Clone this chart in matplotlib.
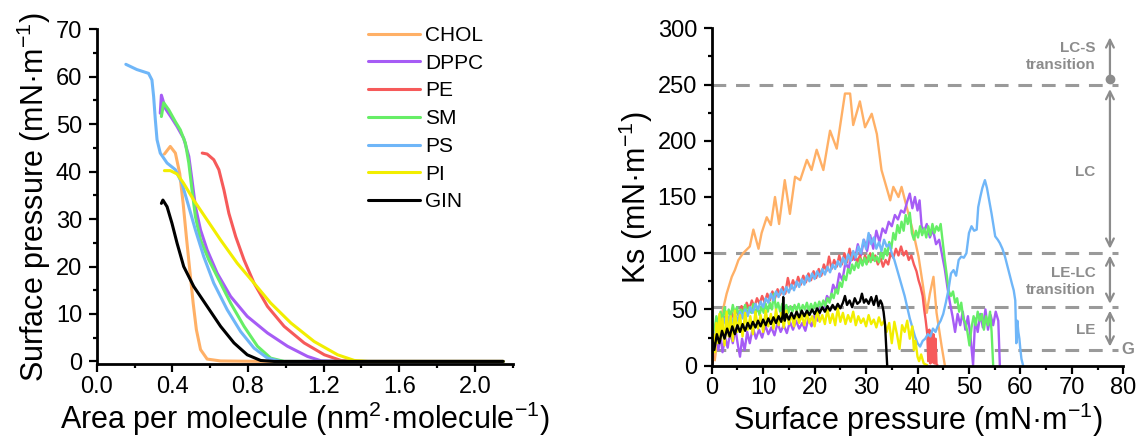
import matplotlib
matplotlib.use("Agg")
import matplotlib.pyplot as plt
from matplotlib.ticker import MultipleLocator, FormatStrFormatter

plt.rcParams['font.family'] = ['Liberation Sans', 'DejaVu Sans']
plt.rcParams['mathtext.default'] = 'regular'

# ---- colours
c_chol = '#FFB066'
c_dppc = '#A65CF5'
c_pe = '#F65A5A'
c_sm = '#66EE66'
c_ps = '#6FB6F8'
c_pi = '#F2EE00'
c_gin = '#000000'
c_note = '#8C8C8C'

# ---- left panel: isotherms (area per molecule, surface pressure)
chol_a = [0.358, 0.389, 0.416, 0.439, 0.457, 0.474, 0.492, 0.510, 0.527, 0.549, 0.584, 0.655, 0.9, 1.5, 2.15]
chol_p = [43.7, 45.3, 43.9, 39.6, 33.3, 26.3, 19.3, 12.3, 6.7, 2.5, 0.5, 0.1, 0.0, 0.0, 0.0]

dppc_a = [0.336, 0.342, 0.363, 0.398, 0.425, 0.460, 0.487, 0.504, 0.522, 0.549, 0.584, 0.637, 0.708, 0.796,
          0.903, 1.009, 1.115, 1.186, 1.3, 2.15]
dppc_p = [52.3, 56.1, 53.3, 51.2, 49.5, 47.0, 43.2, 38.2, 32.6, 27.7, 23.5, 18.6, 13.7, 9.5,
          6.0, 3.2, 1.05, 0.14, 0.0, 0.0]

pe_a = [0.558, 0.584, 0.619, 0.646, 0.673, 0.699, 0.735, 0.779, 0.832, 0.903, 0.991, 1.097, 1.204, 1.292,
        1.363, 2.15]
pe_p = [43.9, 43.7, 42.5, 40.4, 36.1, 31.2, 26.3, 21.4, 16.5, 11.6, 7.4, 3.9, 1.4, 0.2,
        0.0, 0.0]

sm_a = [0.342, 0.354, 0.381, 0.416, 0.442, 0.469, 0.487, 0.504, 0.522, 0.549, 0.593, 0.646, 0.708, 0.779,
        0.850, 0.920, 0.991, 2.15]
sm_p = [51.6, 54.5, 53.0, 50.5, 48.8, 46.0, 41.8, 36.1, 30.5, 25.6, 21.4, 17.2, 12.3, 7.4,
        3.2, 0.7, 0.0, 0.0]

ps_a = [0.154, 0.212, 0.274, 0.292, 0.301, 0.310, 0.319, 0.336, 0.372, 0.416, 0.451, 0.487, 0.522, 0.566,
        0.619, 0.690, 0.761, 0.832, 0.903, 0.973, 2.15]
ps_p = [62.6, 61.5, 60.7, 59.3, 55.8, 50.9, 46.7, 43.9, 41.8, 40.4, 37.5, 32.6, 27.7, 22.1,
        16.5, 10.9, 6.3, 2.8, 0.7, 0.0, 0.0]

pi_a = [0.358, 0.389, 0.425, 0.460, 0.513, 0.584, 0.655, 0.743, 0.832, 0.920, 1.027, 1.150, 1.274, 1.363,
        1.434, 2.15]
pi_p = [40.2, 40.2, 39.5, 37.5, 34.0, 29.8, 25.6, 20.7, 16.5, 12.3, 8.1, 4.2, 1.4, 0.2,
        0.0, 0.0]

gin_a = [0.342, 0.350, 0.372, 0.398, 0.425, 0.460, 0.513, 0.584, 0.655, 0.726, 0.796, 0.867, 0.938, 2.15]
gin_p = [33.3, 34.0, 32.6, 29.1, 24.9, 20.0, 15.8, 11.6, 7.4, 3.9, 1.4, 0.2, 0.0, 0.0]

# ---- right panel: compressibility modulus Ks vs surface pressure
chol_x = [0.6, 1.6, 2.3, 2.9, 3.9, 4.5, 5.2, 6.1, 7.4, 8.1, 9.1, 9.7, 10.7, 11.5, 12.3, 13.1, 14.2, 15.2,
          16.2, 17.2, 18.5, 19.4, 20.4, 21.7, 23.0, 24.3, 25.9, 26.9, 27.5, 28.8, 29.8, 31.1, 32.1, 33.0,
          34.7, 35.3, 36.3, 36.9, 37.9, 39.2, 40.2, 41.1, 41.8, 42.4, 43.1, 43.7, 44.7, 45.3]
chol_k = [5, 41, 52, 64, 79, 85, 94, 100, 106, 121, 104, 118, 132, 125, 150, 126, 165, 135,
          168, 165, 183, 174, 192, 174, 209, 193, 242, 242, 214, 235, 212, 224, 206, 174,
          147, 159, 150, 159, 141, 118, 97, 70, 47, 64, 79, 47, 17, 0.6]

dppc_x = [0.2, 0.5, 0.9, 1.3, 1.7, 2.1, 2.6, 3.1, 3.6, 4.1,
          4.6, 5.1, 5.5, 5.9, 6.4, 6.9, 7.4, 8.0, 8.6, 9.2,
          9.8, 10.4, 11.0, 11.6, 12.2, 12.8, 13.4, 14.0, 14.6, 15.2,
          15.8, 16.4, 17.0, 17.6, 18.2, 18.8, 19.4, 20.0, 20.6, 21.2,
          21.8, 22.4, 23.0, 23.6, 24.2, 24.8, 25.4, 26.0, 26.6, 27.2,
          27.8, 28.4, 29.0, 29.6, 30.2, 30.8, 31.4, 32.0, 32.6, 33.2,
          33.8, 34.4, 35.0, 35.6, 36.2, 36.8, 37.4, 38.0, 38.5, 39.0,
          39.5, 40.0, 40.4, 40.8, 41.3, 41.8, 42.4, 43.0, 43.6, 44.2,
          44.8, 45.3, 45.8, 46.3, 46.8, 47.3, 47.8, 48.3, 48.8, 49.3,
          49.8, 50.3, 50.8, 51.2, 51.7, 52.2, 52.7, 53.2, 53.7, 54.2,
          54.7, 55.2, 55.7, 56.0]
dppc_k = [30, 18, 34, 14, 28, 12, 25, 16, 30, 20,
          33, 18, 8, 24, 14, 30, 20, 34, 24, 32,
          25, 36, 28, 34, 27, 38, 30, 36, 29, 39,
          32, 40, 33, 38, 31, 42, 35, 45, 40, 52,
          50, 62, 58, 72, 66, 82, 76, 92, 86, 100,
          94, 108, 98, 112, 102, 116, 104, 120, 110, 122,
          118, 128, 124, 134, 130, 138, 136, 146, 153, 140,
          150, 138, 147, 124, 120, 126, 114, 121, 108, 112,
          98, 86, 70, 56, 44, 30, 46, 36, 48, 32,
          44, 26, 0.6, 42, 30, 46, 34, 50, 32, 45,
          36, 48, 40, 0.6]

pe_x = [0.2, 0.5, 0.9, 1.3, 1.8, 2.3, 2.8, 3.3, 3.8, 4.3,
        4.8, 5.3, 5.8, 6.3, 6.8, 7.3, 7.8, 8.3, 8.8, 9.3,
        9.8, 10.3, 10.8, 11.3, 11.8, 12.3, 12.8, 13.3, 13.8, 14.3,
        14.8, 15.3, 15.8, 16.3, 16.8, 17.3, 17.8, 18.3, 18.8, 19.3,
        19.8, 20.3, 20.8, 21.3, 21.8, 22.3, 22.8, 23.3, 23.8, 24.3,
        24.8, 25.3, 25.8, 26.3, 26.8, 27.3, 27.8, 28.3, 28.8, 29.3,
        29.8, 30.3, 30.8, 31.3, 31.8, 32.3, 32.8, 33.3, 33.8, 34.3,
        34.8, 35.3, 35.8, 36.3, 36.8, 37.3, 37.8, 38.3, 38.8, 39.3,
        39.8, 40.2, 40.6, 41.0, 41.3, 41.6, 41.9, 42.1, 42.3, 42.5,
        42.7, 42.9, 43.1, 43.3, 43.5, 43.7, 43.8]
pe_k = [3, 28, 40, 34, 44, 38, 46, 40, 48, 42,
        50, 44, 53, 47, 56, 50, 58, 52, 60, 55,
        62, 56, 64, 58, 66, 60, 68, 63, 70, 64,
        78, 68, 76, 70, 79, 72, 80, 74, 82, 76,
        84, 78, 86, 80, 90, 84, 97, 86, 94, 88,
        98, 90, 100, 92, 104, 94, 100, 92, 98, 90,
        98, 92, 100, 94, 98, 90, 96, 88, 94, 90,
        100, 96, 104, 98, 106, 98, 102, 94, 98, 90,
        84, 76, 70, 62, 50, 40, 28, 4, 32, 2,
        30, 3, 28, 2, 24, 1, 0.6]

sm_x = [0.2, 0.5, 0.9, 1.3, 1.7, 2.1, 2.5, 2.9, 3.3, 3.7,
        4.1, 4.5, 4.9, 5.3, 5.7, 6.1, 6.5, 6.9, 7.3, 7.7,
        8.1, 8.5, 8.9, 9.3, 9.7, 10.1, 10.5, 10.9, 11.3, 11.7,
        12.1, 12.5, 12.9, 13.3, 13.7, 14.1, 14.5, 14.9, 15.3, 15.7,
        16.1, 16.5, 16.9, 17.3, 17.7, 18.1, 18.5, 18.9, 19.3, 19.7,
        20.1, 20.5, 20.9, 21.3, 21.7, 22.1, 22.5, 22.9, 23.3, 23.7,
        24.1, 24.5, 24.9, 25.3, 25.7, 26.1, 26.5, 26.9, 27.3, 27.7,
        28.1, 28.5, 28.9, 29.3, 29.7, 30.1, 30.5, 30.9, 31.3, 31.7,
        32.1, 32.5, 32.9, 33.3, 33.7, 34.1, 34.5, 34.9, 35.3, 35.7,
        36.1, 36.5, 36.9, 37.3, 37.7, 38.1, 38.5, 38.9, 39.3, 39.7,
        40.1, 40.5, 40.9, 41.3, 41.7, 42.1, 42.5, 42.9, 43.3, 43.7,
        44.1, 44.5, 44.9, 45.3, 45.7, 46.1, 46.5, 46.9, 47.3, 47.7,
        48.1, 48.5, 48.9, 49.3, 49.7, 50.1, 50.5, 50.9, 51.3, 51.7,
        52.1, 52.5, 52.9, 53.3, 53.7, 54.1, 54.4, 54.7]
sm_k = [14, 30, 44, 36, 48, 40, 52, 42, 50, 44,
        54, 46, 52, 44, 50, 46, 54, 45, 52, 47,
        55, 46, 52, 45, 53, 47, 55, 48, 56, 50,
        64, 50, 56, 48, 55, 49, 54, 47, 53, 48,
        54, 49, 55, 48, 54, 50, 56, 49, 55, 50,
        56, 51, 57, 52, 58, 53, 60, 56, 64, 60,
        68, 64, 74, 70, 80, 76, 86, 82, 90, 85,
        92, 87, 95, 89, 96, 90, 98, 92, 100, 93,
        97, 92, 101, 95, 104, 98, 110, 104, 118, 112,
        125, 118, 128, 120, 134, 126, 136, 118, 112, 120,
        114, 124, 116, 122, 114, 124, 116, 126, 118, 124,
        120, 126, 110, 94, 80, 66, 62, 66, 56, 60,
        48, 56, 42, 38, 30, 18, 34, 44, 36, 48,
        40, 46, 32, 44, 36, 48, 30, 0.6]

ps_x = [0.2, 0.6, 1.0, 1.5, 2.0, 2.5, 3.0, 3.5, 4.0, 4.5,
        5.0, 5.5, 6.0, 6.5, 7.0, 7.5, 8.0, 8.5, 9.0, 9.5,
        10.0, 10.5, 11.0, 11.5, 12.0, 12.5, 13.0, 13.5, 14.0, 14.5,
        15.0, 15.5, 16.0, 16.5, 17.0, 17.5, 18.0, 18.5, 19.0, 19.5,
        20.0, 20.5, 21.0, 21.5, 22.0, 22.5, 23.0, 23.5, 24.0, 24.5,
        25.0, 25.5, 26.0, 26.5, 27.0, 27.5, 28.0, 28.5, 29.0, 29.5,
        30.0, 30.5, 31.0, 31.5, 32.0, 32.5, 33.0, 33.5, 34.0, 34.5,
        35.0, 35.5, 36.0, 36.5, 37.0, 37.5, 38.0, 38.5, 39.0, 39.5,
        40.0, 40.5, 41.0, 41.5, 42.0, 42.5, 43.0, 43.5, 44.0, 44.5,
        45.0, 45.5, 46.0, 46.5, 47.0, 47.5, 48.0, 48.5, 49.0, 49.5,
        50.0, 50.5, 51.0, 51.5, 51.8, 52.2, 52.6, 53.1, 53.5, 53.9,
        54.4, 55.1, 55.6, 56.0, 56.5, 57.0, 57.5, 58.0, 58.4, 58.7,
        59.0, 59.2, 59.4, 59.6, 59.8, 60.0, 60.2, 60.5]
ps_k = [17, 30, 26, 38, 32, 42, 36, 44, 38, 46,
        40, 48, 42, 50, 44, 52, 47, 55, 50, 57,
        52, 60, 56, 64, 58, 66, 61, 68, 63, 70,
        65, 72, 67, 75, 70, 77, 72, 80, 75, 82,
        77, 84, 79, 86, 81, 88, 83, 90, 86, 93,
        88, 96, 90, 99, 93, 102, 96, 106, 100, 112,
        104, 118, 108, 114, 104, 110, 102, 112, 106, 108,
        100, 94, 86, 78, 70, 62, 52, 42, 34, 26,
        20, 17, 22, 24, 28, 26, 33, 30, 36, 40,
        46, 56, 67, 82, 85, 80, 94, 97, 96, 100,
        118, 124, 120, 121, 141, 150, 158, 165, 158, 148,
        135, 115, 112, 109, 104, 97, 88, 79, 72, 67,
        58, 20, 40, 30, 24, 14, 6, 0.6]

pi_x = [0.1, 0.3, 0.6, 0.9, 1.2, 1.5, 1.8, 2.1, 2.5, 2.9,
        3.3, 3.7, 4.1, 4.5, 5.0, 5.5, 6.0, 6.5, 7.0, 7.5,
        8.0, 8.5, 9.0, 9.5, 10.0, 10.5, 11.0, 11.5, 12.0, 12.5,
        13.0, 13.5, 14.0, 14.5, 15.0, 15.5, 16.0, 16.5, 17.0, 17.5,
        18.0, 18.5, 19.0, 19.5, 20.0, 20.5, 21.0, 21.5, 22.0, 22.5,
        23.0, 23.5, 24.0, 24.5, 25.0, 25.5, 26.0, 26.5, 27.0, 27.5,
        28.0, 28.5, 29.0, 29.5, 30.0, 30.5, 31.0, 31.5, 32.0, 32.5,
        33.0, 33.5, 34.0, 34.5, 35.0, 35.5, 36.0, 36.5, 37.0, 37.5,
        38.0, 38.5, 39.0, 39.3, 39.6, 40.0, 40.3, 40.7, 41.2, 41.8]
pi_k = [5, 28, 12, 38, 20, 46, 24, 42, 18, 48,
        26, 44, 22, 49, 30, 45, 26, 47, 32, 44,
        28, 48, 33, 45, 30, 49, 35, 46, 33, 50,
        36, 47, 34, 49, 37, 46, 35, 48, 38, 45,
        36, 47, 38, 44, 35, 49, 39, 45, 37, 50,
        38, 46, 36, 51, 39, 47, 37, 45, 39, 48,
        36, 44, 38, 42, 35, 45, 37, 41, 34, 43,
        36, 40, 30, 38, 20, 39, 28, 15, 36, 30,
        40, 24, 35, 14, 22, 8, 4, 10, 2, 0.6]

gin_x = [0.0, 0.2, 0.5, 1.0, 1.5, 2.0, 2.5, 3.0, 3.5, 4.0,
         4.5, 5.0, 5.5, 6.0, 6.5, 7.0, 7.5, 8.0, 8.5, 9.0,
         9.5, 10.0, 10.5, 11.0, 11.5, 12.0, 12.5, 13.0, 13.5, 13.8,
         13.9, 14.0, 14.2, 14.5, 15.0, 15.5, 16.0, 16.5, 17.0, 17.5,
         18.0, 18.5, 19.0, 19.5, 20.0, 20.5, 21.0, 21.5, 22.0, 22.5,
         23.0, 23.5, 24.0, 24.5, 25.0, 25.5, 25.9, 26.3, 26.8, 27.3,
         27.8, 28.3, 28.8, 29.2, 29.6, 30.0, 30.5, 31.0, 31.5, 32.0,
         32.4, 32.8, 33.1, 33.4, 33.7, 33.9, 34.1]
gin_k = [0.6, 22, 14, 28, 20, 31, 24, 33, 26, 35,
         28, 36, 30, 37, 31, 38, 33, 39, 34, 40,
         35, 41, 36, 42, 37, 43, 38, 44, 39, 45,
         61, 45, 40, 46, 41, 47, 42, 48, 43, 49,
         44, 49, 45, 50, 46, 51, 47, 52, 48, 53,
         49, 54, 50, 55, 51, 56, 62, 54, 58, 52,
         60, 55, 57, 64, 56, 59, 55, 61, 54, 62,
         53, 58, 55, 48, 36, 18, 0.6]

# phase limits (Ks)
phase_lines = [250, 100, 52, 14]

fig = plt.figure(figsize=(11.38, 4.37), dpi=100)
ax1 = fig.add_axes([0.085, 0.1664, 0.3655, 0.7668])
ax2 = fig.add_axes([0.6254, 0.1632, 0.3617, 0.7720])

tick_fs = 17
label_fs = 22


def style_axes(ax):
    for side in ['top', 'right']:
        ax.spines[side].set_visible(False)
    for side in ['left', 'bottom']:
        ax.spines[side].set_linewidth(2)
    ax.tick_params(which='major', direction='out', length=5.5, width=1.6, labelsize=tick_fs)
    ax.tick_params(which='minor', direction='out', length=3.2, width=1.6)
    ax.tick_params(axis='x', which='major', pad=3)
    ax.tick_params(axis='y', which='major', pad=5)


# ---- left panel
iso = [(chol_a, chol_p, c_chol, 'CHOL'), (dppc_a, dppc_p, c_dppc, 'DPPC'),
       (pe_a, pe_p, c_pe, 'PE'), (sm_a, sm_p, c_sm, 'SM'),
       (ps_a, ps_p, c_ps, 'PS'), (pi_a, pi_p, c_pi, 'PI'),
       (gin_a, gin_p, c_gin, 'GIN')]
for a, p, c, lab in iso:
    ax1.plot(a, p, color=c, lw=2.2, label=lab, solid_capstyle='round')

ax1.set_xlim(0, 2.2)
ax1.set_ylim(-0.6, 70)
ax1.xaxis.set_major_locator(MultipleLocator(0.4))
ax1.xaxis.set_minor_locator(MultipleLocator(0.2))
ax1.yaxis.set_major_locator(MultipleLocator(10))
ax1.yaxis.set_minor_locator(MultipleLocator(5))
ax1.xaxis.set_major_formatter(FormatStrFormatter('%.1f'))
style_axes(ax1)
ax1.set_xlabel('Area per molecule (nm$^2$·molecule$^{-1}$)', fontsize=label_fs, labelpad=1)
ax1.set_ylabel('Surface pressure (mN·m$^{-1}$)', fontsize=label_fs, labelpad=2)
ax1.legend(loc='upper left', bbox_to_anchor=(0.652, 1.01), frameon=False, fontsize=15,
           handlelength=2.5, handletextpad=0.25, labelspacing=0.42, borderaxespad=0, borderpad=0)

# ---- right panel
for y in phase_lines:
    ax2.plot([0, 79], [y, y], color='#9A9A9A', lw=2.2, dashes=(4.5, 3.2), zorder=1)

ks = [(chol_x, chol_k, c_chol), (dppc_x, dppc_k, c_dppc), (pe_x, pe_k, c_pe),
      (sm_x, sm_k, c_sm), (ps_x, ps_k, c_ps), (pi_x, pi_k, c_pi), (gin_x, gin_k, c_gin)]
for x, k, c in ks:
    ax2.plot(x, k, color=c, lw=1.7, zorder=2)

ax2.set_xlim(0, 80)
ax2.set_ylim(0, 300)
ax2.xaxis.set_major_locator(MultipleLocator(10))
ax2.xaxis.set_minor_locator(MultipleLocator(5))
ax2.yaxis.set_major_locator(MultipleLocator(50))
ax2.yaxis.set_minor_locator(MultipleLocator(25))
style_axes(ax2)
ax2.set_xlabel('Surface pressure (mN·m$^{-1}$)', fontsize=label_fs, labelpad=1)
ax2.set_ylabel('Ks (mN·m$^{-1}$)', fontsize=label_fs, labelpad=2)

# phase annotations
arr_x = 77.4
akw = dict(color=c_note, lw=1.6, mutation_scale=14, shrinkA=0, shrinkB=0)
ax2.annotate('', xy=(arr_x, 292), xytext=(arr_x, 255), arrowprops=dict(arrowstyle='->', **akw))
ax2.plot([arr_x], [255], 'o', color=c_note, ms=6, clip_on=False)
ax2.annotate('', xy=(arr_x, 246), xytext=(arr_x, 104), arrowprops=dict(arrowstyle='<->', **akw))
ax2.annotate('', xy=(arr_x, 98), xytext=(arr_x, 55), arrowprops=dict(arrowstyle='<->', **akw))
ax2.annotate('', xy=(arr_x, 49), xytext=(arr_x, 17), arrowprops=dict(arrowstyle='<->', **akw))

tkw = dict(color=c_note, fontsize=11, fontweight='bold', ha='right', va='center', linespacing=1.3)
ax2.text(74.6, 275, 'LC-S\ntransition', **tkw)
ax2.text(74.6, 172, 'LC', **tkw)
ax2.text(74.6, 75, 'LE-LC\ntransition', **tkw)
ax2.text(74.6, 32, 'LE', **tkw)
ax2.text(79.6, 14, 'G', color=c_note, fontsize=12, fontweight='bold', ha='left', va='center',
         clip_on=False)

fig.savefig('out.png', dpi=100)
